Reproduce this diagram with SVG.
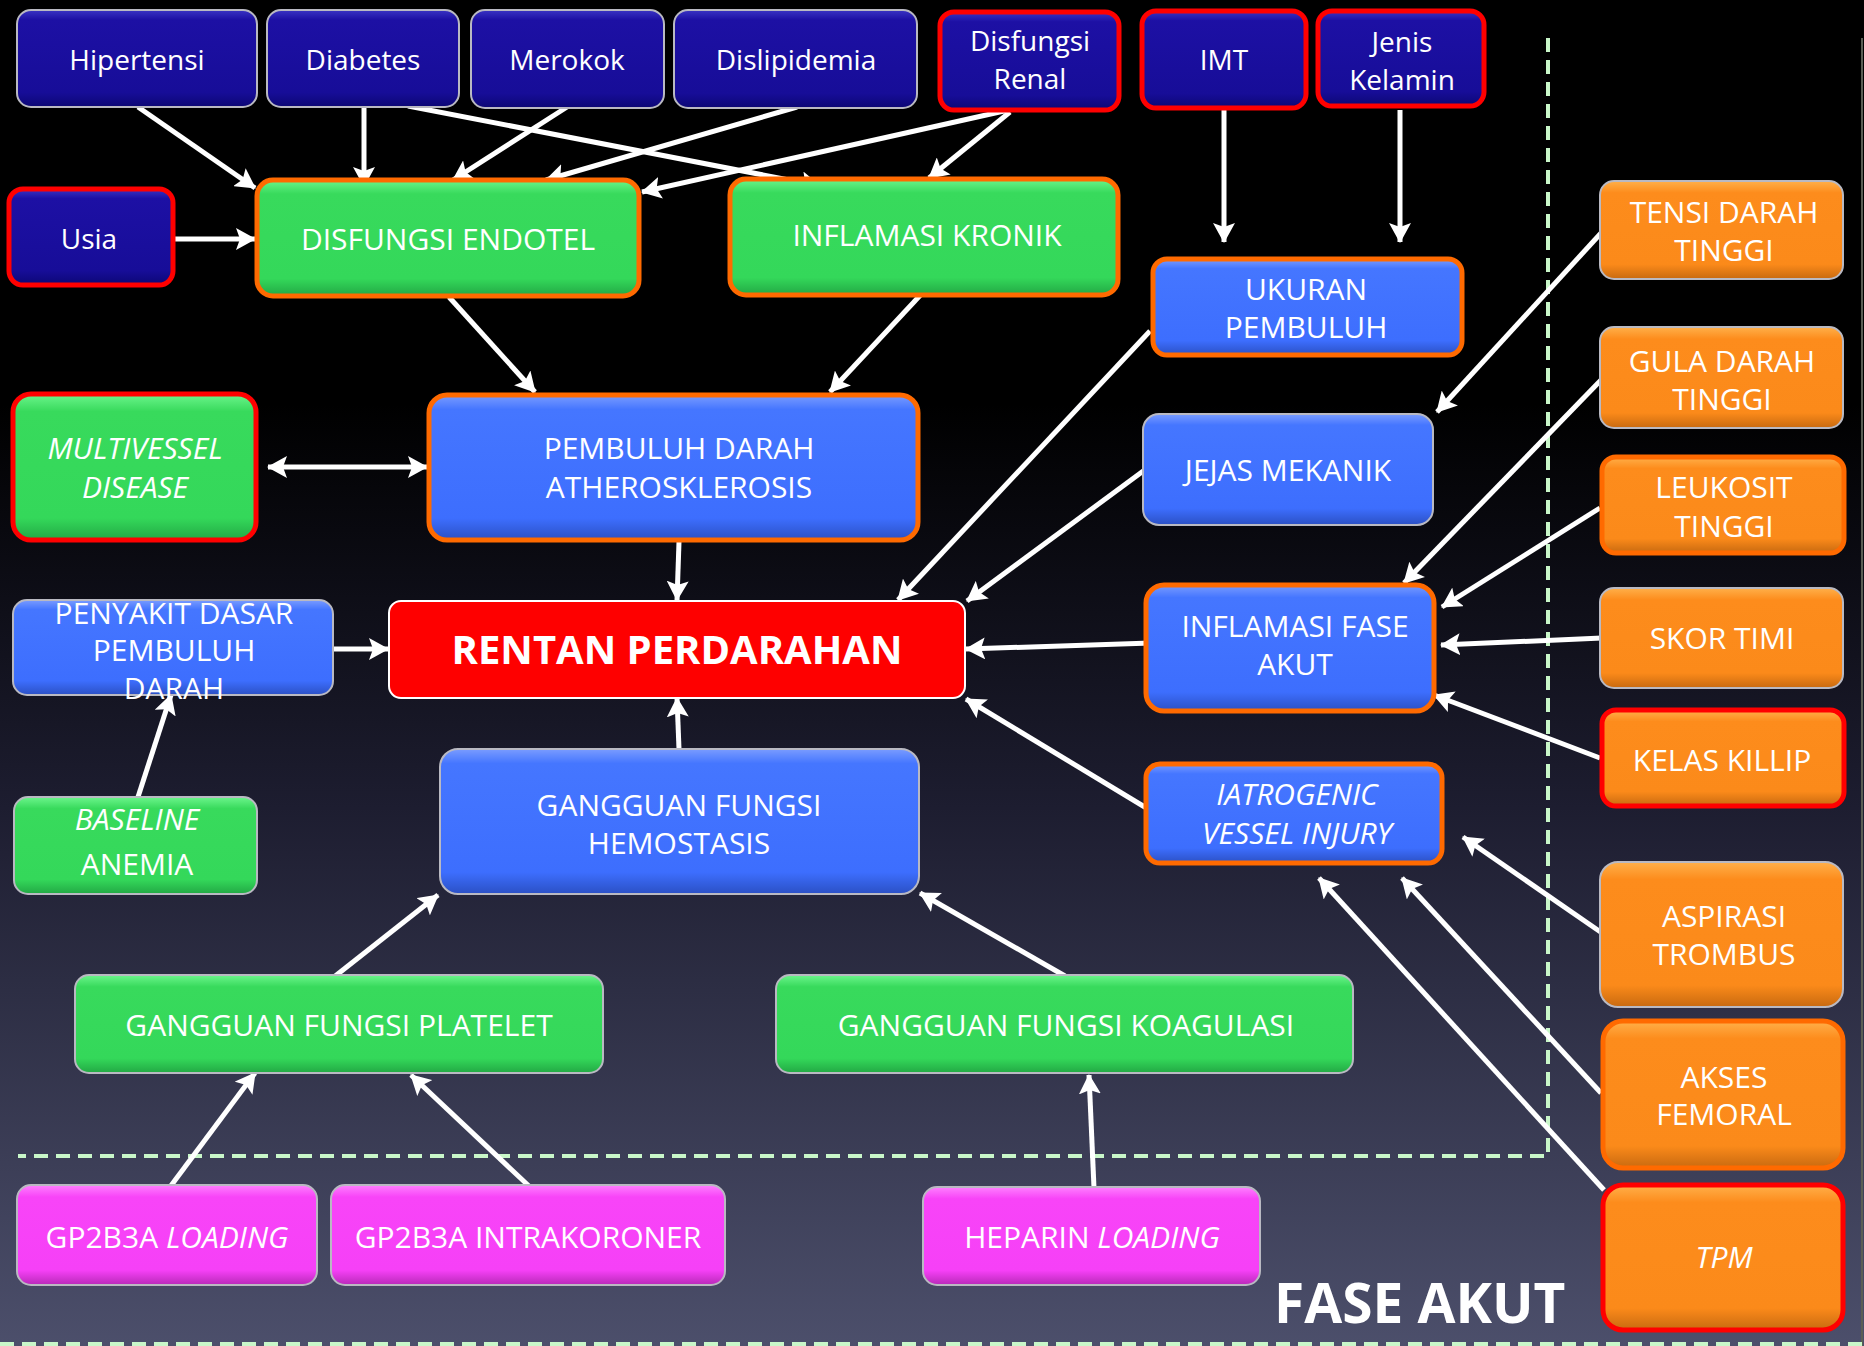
<svg xmlns="http://www.w3.org/2000/svg" width="1864" height="1346" viewBox="0 0 1864 1346">
<defs>
<linearGradient id="bg" x1="0" y1="0" x2="0" y2="1">
<stop offset="0" stop-color="#000"/><stop offset="0.3" stop-color="#000"/><stop offset="0.6" stop-color="#1d1d30"/><stop offset="1" stop-color="#4c4f6b"/>
</linearGradient>
<linearGradient id="gNavy" x1="0" y1="0" x2="0" y2="1">
<stop offset="0" stop-color="#3a34c4"/><stop offset="0.1" stop-color="#1d10a4"/><stop offset="0.85" stop-color="#170d98"/><stop offset="1" stop-color="#0c0774"/>
</linearGradient>
<linearGradient id="gGreen" x1="0" y1="0" x2="0" y2="1">
<stop offset="0" stop-color="#6cf58c"/><stop offset="0.12" stop-color="#38da5c"/><stop offset="0.85" stop-color="#34d85a"/><stop offset="1" stop-color="#22a844"/>
</linearGradient>
<linearGradient id="gBlue" x1="0" y1="0" x2="0" y2="1">
<stop offset="0" stop-color="#7a9cff"/><stop offset="0.1" stop-color="#4576ff"/><stop offset="0.85" stop-color="#3d6efe"/><stop offset="1" stop-color="#2b50c4"/>
</linearGradient>
<linearGradient id="gOrange" x1="0" y1="0" x2="0" y2="1">
<stop offset="0" stop-color="#ffb04a"/><stop offset="0.12" stop-color="#fd8c1c"/><stop offset="0.85" stop-color="#fb8a1a"/><stop offset="1" stop-color="#c86a10"/>
</linearGradient>
<linearGradient id="gMag" x1="0" y1="0" x2="0" y2="1">
<stop offset="0" stop-color="#ff80ff"/><stop offset="0.12" stop-color="#f844f8"/><stop offset="0.85" stop-color="#f640f7"/><stop offset="1" stop-color="#b82ab8"/>
</linearGradient>
<marker id="ah" markerWidth="20" markerHeight="22" refX="19" refY="11" orient="auto-start-reverse" markerUnits="userSpaceOnUse">
<path d="M0,0 L20,11 L0,22 L4,11 Z" fill="#fff"/>
</marker>
<style>
.n{stroke:#b9b9c2;stroke-width:2}
.navy{fill:url(#gNavy)}
.green{fill:url(#gGreen)}
.blue{fill:url(#gBlue)}
.orange{fill:url(#gOrange)}
.mag{fill:url(#gMag)}
.bo{stroke:#ff6a00;stroke-width:5}
.br{stroke:#ff0000;stroke-width:5}
text{font-family:"Open Sans","Liberation Sans",sans-serif;font-size:30px;fill:#fff;text-anchor:middle}
.top text{font-size:28px}
.it{font-style:italic}
.big{font-size:40px;font-weight:bold}
.fa{font-size:55px;font-weight:bold;text-anchor:start}
.c line{stroke:#fff;stroke-width:5;marker-end:url(#ah)}
.dash{stroke:#c9f7c9;stroke-width:4;stroke-dasharray:14 8;fill:none}
</style>
</defs>
<rect width="1864" height="1346" fill="url(#bg)"/>
<line x1="1862" y1="38" x2="1862" y2="1346" stroke="#5a5e55" stroke-width="2"/>
<g id="dashes">
<path class="dash" d="M1548,38 V1156 H18"/>
<line class="dash" x1="0" y1="1344" x2="1864" y2="1344"/>
</g>

<g class="c" id="connectors">
<line x1="138" y1="107" x2="255" y2="188"/>
<line x1="364" y1="107" x2="364" y2="186"/>
<line x1="408" y1="106" x2="820" y2="186"/>
<line x1="567" y1="107" x2="453" y2="180"/>
<line x1="797" y1="107" x2="546" y2="180"/>
<line x1="1013" y1="109" x2="642" y2="192"/>
<line x1="1010" y1="112" x2="929" y2="178"/>
<line x1="162" y1="239" x2="255" y2="239"/>
<line x1="1224" y1="110" x2="1224" y2="242"/>
<line x1="1400" y1="110" x2="1400" y2="242"/>
<line x1="449" y1="297" x2="535" y2="392"/>
<line x1="927" y1="288" x2="830" y2="392"/>
<line x1="1150" y1="331" x2="898" y2="600"/>
<line x1="1602" y1="232" x2="1437" y2="412"/>
<line x1="1146" y1="469" x2="967" y2="601"/>
<line x1="1602" y1="379" x2="1404" y2="583"/>
<line x1="1600" y1="508" x2="1442" y2="607"/>
<line x1="1602" y1="638" x2="1441" y2="645"/>
<line x1="1600" y1="758" x2="1434" y2="695"/>
<line x1="1151" y1="643" x2="966" y2="649"/>
<line x1="1153" y1="812" x2="966" y2="699"/>
<line x1="1602" y1="933" x2="1463" y2="837"/>
<line x1="1601" y1="1093" x2="1402" y2="878"/>
<line x1="1604" y1="1190" x2="1319" y2="878"/>
<line x1="1065" y1="976" x2="920" y2="893"/>
<line x1="334" y1="977" x2="438" y2="895"/>
<line x1="170" y1="1187" x2="255" y2="1073"/>
<line x1="531" y1="1188" x2="411" y2="1075"/>
<line x1="1094" y1="1188" x2="1089" y2="1075"/>
<line x1="268" y1="467" x2="427" y2="467" style="marker-start:url(#ah)"/>
<line x1="333" y1="649" x2="388" y2="649"/>
<line x1="138" y1="797" x2="171" y2="695"/>
<line x1="679" y1="542" x2="677" y2="600"/>
<line x1="679" y1="749" x2="677" y2="698"/>
</g>

<g class="top">
<g id="n-hipertensi"><rect class="n navy" x="17" y="10" width="240" height="97" rx="14"/><text x="137" y="70">Hipertensi</text></g>
<g id="n-diabetes"><rect class="n navy" x="267" y="10" width="192" height="97" rx="14"/><text x="363" y="70">Diabetes</text></g>
<g id="n-merokok"><rect class="n navy" x="471" y="10" width="193" height="98" rx="14"/><text x="567" y="70">Merokok</text></g>
<g id="n-dislipidemia"><rect class="n navy" x="674" y="10" width="243" height="98" rx="14"/><text x="796" y="70">Dislipidemia</text></g>
<g id="n-renal"><rect class="navy br" x="940" y="12" width="179" height="98" rx="14"/><text x="1030" y="51">Disfungsi</text><text x="1030" y="89">Renal</text></g>
<g id="n-imt"><rect class="navy br" x="1142" y="11" width="164" height="97" rx="14"/><text x="1224" y="70">IMT</text></g>
<g id="n-jenis"><rect class="navy br" x="1318" y="11" width="166" height="95" rx="14"/><text x="1402" y="52">Jenis</text><text x="1402" y="90">Kelamin</text></g>
<g id="n-usia"><rect class="navy br" x="9" y="189" width="164" height="96" rx="14"/><text x="89" y="249">Usia</text></g>
</g>

<g id="n-endotel"><rect class="green bo" x="257" y="180" width="382" height="116" rx="16"/><text x="448" y="250">DISFUNGSI ENDOTEL</text></g>
<g id="n-kronik"><rect class="green bo" x="730" y="179" width="388" height="116" rx="16"/><text x="927" y="246">INFLAMASI KRONIK</text></g>
<g id="n-ukuran"><rect class="blue bo" x="1153" y="259" width="309" height="96" rx="14"/><text x="1306" y="300">UKURAN</text><text x="1306" y="338">PEMBULUH</text></g>
<g id="n-athero"><rect class="blue bo" x="429" y="395" width="489" height="145" rx="18"/><text x="679" y="459">PEMBULUH DARAH</text><text x="679" y="498">ATHEROSKLEROSIS</text></g>
<g id="n-multi"><rect class="green br" x="13" y="394" width="243" height="146" rx="18"/><text class="it" x="135" y="459">MULTIVESSEL</text><text class="it" x="135" y="498">DISEASE</text></g>
<g id="n-jejas"><rect class="n blue" x="1143" y="414" width="290" height="111" rx="16"/><text x="1288" y="481">JEJAS MEKANIK</text></g>
<g id="n-penyakit"><rect class="n blue" x="13" y="600" width="320" height="95" rx="14"/><text x="174" y="624">PENYAKIT DASAR</text><text x="174" y="661">PEMBULUH</text><text x="174" y="699">DARAH</text></g>
<g id="n-rentan"><rect x="389" y="601" width="576" height="97" rx="12" fill="#fe0000" stroke="#fff" stroke-width="2"/><text class="big" x="677" y="664">RENTAN PERDARAHAN</text></g>
<g id="n-ifa"><rect class="blue bo" x="1146" y="585" width="288" height="126" rx="18"/><text x="1295" y="637">INFLAMASI FASE</text><text x="1295" y="675">AKUT</text></g>
<g id="n-iatro"><rect class="blue bo" x="1146" y="764" width="296" height="99" rx="14"/><text class="it" x="1297" y="805">IATROGENIC</text><text class="it" x="1297" y="844">VESSEL INJURY</text></g>
<g id="n-hemostasis"><rect class="n blue" x="440" y="749" width="479" height="145" rx="18"/><text x="679" y="816">GANGGUAN FUNGSI</text><text x="679" y="854">HEMOSTASIS</text></g>
<g id="n-anemia"><rect class="n green" x="14" y="797" width="243" height="97" rx="14"/><text class="it" x="137" y="830">BASELINE</text><text x="137" y="875">ANEMIA</text></g>
<g id="n-platelet"><rect class="n green" x="75" y="975" width="528" height="98" rx="14"/><text x="339" y="1036">GANGGUAN FUNGSI PLATELET</text></g>
<g id="n-koagulasi"><rect class="n green" x="776" y="975" width="577" height="98" rx="14"/><text x="1066" y="1036">GANGGUAN FUNGSI KOAGULASI</text></g>
<g id="n-gploading"><rect class="n mag" x="17" y="1185" width="300" height="100" rx="14"/><text x="167" y="1248">GP2B3A <tspan class="it">LOADING</tspan></text></g>
<g id="n-gpintra"><rect class="n mag" x="331" y="1185" width="394" height="100" rx="14"/><text x="528" y="1248">GP2B3A INTRAKORONER</text></g>
<g id="n-heparin"><rect class="n mag" x="923" y="1187" width="337" height="98" rx="14"/><text x="1092" y="1248">HEPARIN <tspan class="it">LOADING</tspan></text></g>

<g id="n-tensi"><rect class="n orange" x="1600" y="181" width="243" height="98" rx="14"/><text x="1724" y="223">TENSI DARAH</text><text x="1724" y="261">TINGGI</text></g>
<g id="n-gula"><rect class="n orange" x="1600" y="327" width="243" height="101" rx="14"/><text x="1722" y="372">GULA DARAH</text><text x="1722" y="410">TINGGI</text></g>
<g id="n-leukosit"><rect class="orange bo" x="1602" y="457" width="242" height="96" rx="14"/><text x="1724" y="498">LEUKOSIT</text><text x="1724" y="537">TINGGI</text></g>
<g id="n-timi"><rect class="n orange" x="1600" y="588" width="243" height="100" rx="14"/><text x="1722" y="649">SKOR TIMI</text></g>
<g id="n-killip"><rect class="orange br" x="1602" y="710" width="242" height="96" rx="14"/><text x="1722" y="771">KELAS KILLIP</text></g>
<g id="n-aspirasi"><rect class="n orange" x="1600" y="862" width="243" height="145" rx="18"/><text x="1724" y="927">ASPIRASI</text><text x="1724" y="965">TROMBUS</text></g>
<g id="n-akses"><rect class="orange bo" x="1603" y="1021" width="240" height="147" rx="20"/><text x="1724" y="1088">AKSES</text><text x="1724" y="1125">FEMORAL</text></g>
<g id="n-tpm"><rect class="orange br" x="1603" y="1185" width="240" height="145" rx="20"/><text class="it" x="1724" y="1268">TPM</text></g>

<text class="fa" x="1274" y="1323">FASE AKUT</text>
</svg>
